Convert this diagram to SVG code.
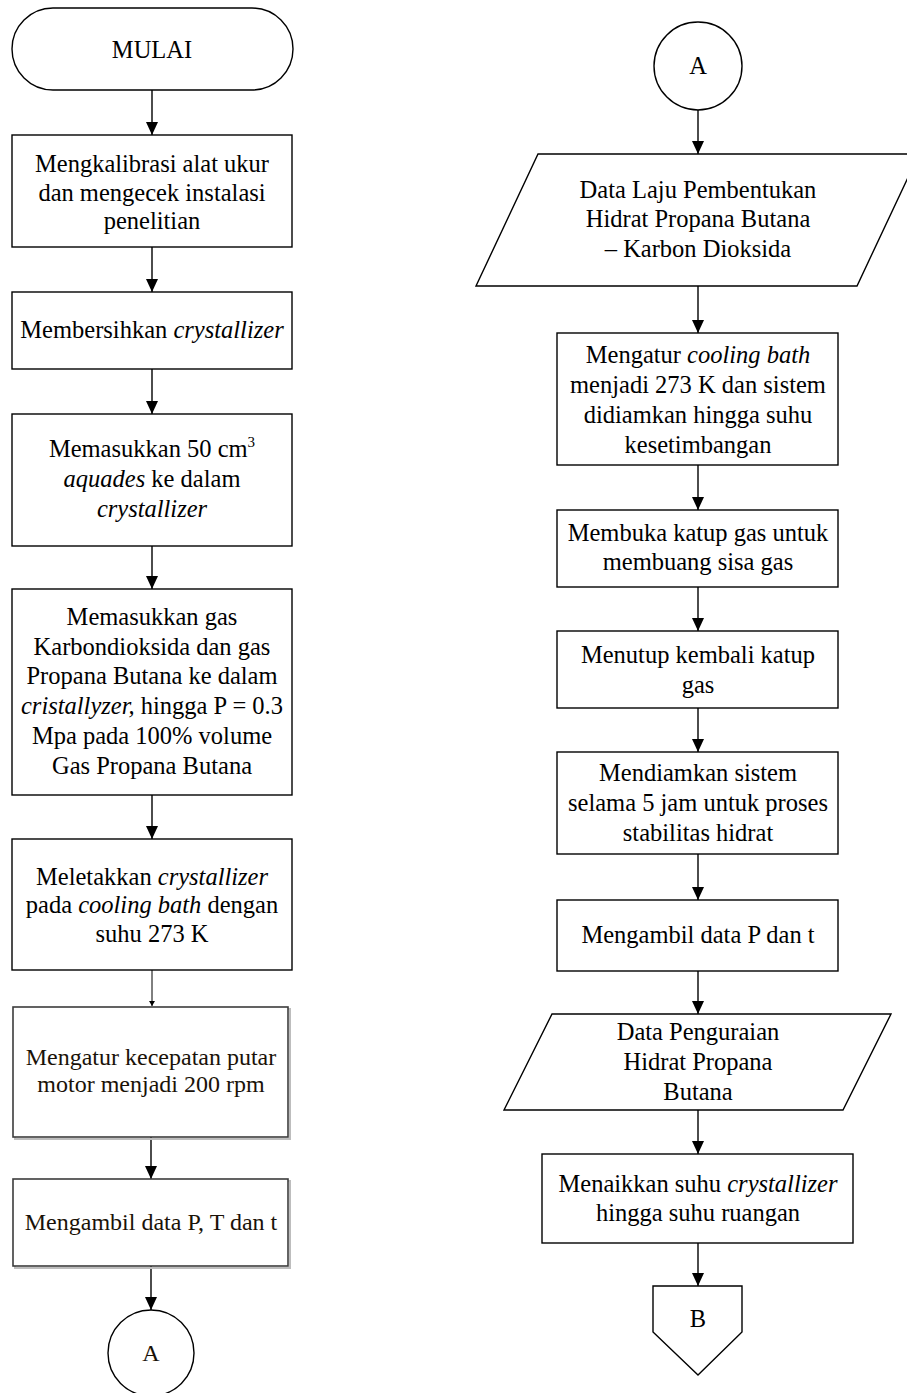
<svg xmlns="http://www.w3.org/2000/svg" width="907" height="1393" viewBox="0 0 907 1393">
<defs>
<style>
.n{fill:#fff;stroke:#000;stroke-width:1.4}
.g{fill:#fff;stroke:#3c3c3c;stroke-width:1.6}
.sh{fill:none;stroke:#bdbdbd;stroke-width:2}
.t{font-family:"Liberation Serif","Times New Roman",serif;font-size:24.5px;fill:#000;text-anchor:middle}
.tg{font-family:"Liberation Serif","Times New Roman",serif;font-size:24px;fill:#1a1208;text-anchor:middle}
.i{font-style:italic}
.c line{stroke:#000;stroke-width:1.4;fill:none}
</style>
<marker id="ah" markerUnits="userSpaceOnUse" markerWidth="14" markerHeight="12" refX="13" refY="6" orient="auto">
<path d="M0,0 L13,6 L0,12 z" fill="#000"/>
</marker>
<marker id="ahs" markerUnits="userSpaceOnUse" markerWidth="6" markerHeight="6" refX="5" refY="3" orient="auto">
<path d="M0,0 L5,3 L0,6 z" fill="#000"/>
</marker>
</defs>
<rect width="907" height="1393" fill="#fff"/>

<g id="connectors" class="c">
<line x1="152" y1="90" x2="152" y2="135" marker-end="url(#ah)"/>
<line x1="152" y1="247" x2="152" y2="292" marker-end="url(#ah)"/>
<line x1="152" y1="369" x2="152" y2="414" marker-end="url(#ah)"/>
<line x1="152" y1="546" x2="152" y2="589" marker-end="url(#ah)"/>
<line x1="152" y1="795" x2="152" y2="839" marker-end="url(#ah)"/>
<line x1="152" y1="970" x2="152" y2="1006" marker-end="url(#ahs)" style="stroke-width:1"/>
<line x1="151" y1="1137" x2="151" y2="1179" marker-end="url(#ah)"/>
<line x1="151" y1="1266" x2="151" y2="1310" marker-end="url(#ah)"/>
<line x1="698" y1="110" x2="698" y2="154" marker-end="url(#ah)"/>
<line x1="698" y1="286" x2="698" y2="333" marker-end="url(#ah)"/>
<line x1="698" y1="465" x2="698" y2="510" marker-end="url(#ah)"/>
<line x1="698" y1="587" x2="698" y2="631" marker-end="url(#ah)"/>
<line x1="698" y1="708" x2="698" y2="752" marker-end="url(#ah)"/>
<line x1="698" y1="854" x2="698" y2="900" marker-end="url(#ah)"/>
<line x1="698" y1="971" x2="698" y2="1014" marker-end="url(#ah)"/>
<line x1="698" y1="1110" x2="698" y2="1154" marker-end="url(#ah)"/>
<line x1="698" y1="1243" x2="698" y2="1286" marker-end="url(#ah)"/>
</g>

<g id="mulai">
<rect class="n" x="12" y="8" width="281" height="82" rx="41" ry="41"/>
<text class="t" x="152" y="58">MULAI</text>
</g>

<g id="kalibrasi">
<rect class="n" x="12" y="135" width="280" height="112"/>
<text class="t" x="152" y="172">Mengkalibrasi alat ukur</text>
<text class="t" x="152" y="201">dan mengecek instalasi</text>
<text class="t" x="152" y="229">penelitian</text>
</g>

<g id="membersihkan">
<rect class="n" x="12" y="292" width="280" height="77"/>
<text class="t" x="152" y="338">Membersihkan <tspan class="i">crystallizer</tspan></text>
</g>

<g id="aquades">
<rect class="n" x="12" y="414" width="280" height="132"/>
<text class="t" x="152" y="457">Memasukkan 50 cm<tspan dy="-10" font-size="15">3</tspan></text>
<text class="t" x="152" y="487"><tspan class="i">aquades</tspan> ke dalam</text>
<text class="t" x="152" y="517" font-style="italic">crystallizer</text>
</g>

<g id="gas">
<rect class="n" x="12" y="589" width="280" height="206"/>
<text class="t" x="152" y="625">Memasukkan gas</text>
<text class="t" x="152" y="655">Karbondioksida dan gas</text>
<text class="t" x="152" y="684">Propana Butana ke dalam</text>
<text class="t" x="152" y="714"><tspan class="i">cristallyzer,</tspan> hingga P = 0.3</text>
<text class="t" x="152" y="744">Mpa pada 100% volume</text>
<text class="t" x="152" y="774">Gas Propana Butana</text>
</g>

<g id="meletakkan">
<rect class="n" x="12" y="839" width="280" height="131"/>
<text class="t" x="152" y="885">Meletakkan <tspan class="i">crystallizer</tspan></text>
<text class="t" x="152" y="913">pada <tspan class="i">cooling bath</tspan> dengan</text>
<text class="t" x="152" y="942">suhu 273 K</text>
</g>

<g id="motor">
<rect class="sh" x="15" y="1009" width="275" height="130"/>
<rect class="g" x="13" y="1007" width="275" height="130"/>
<text class="tg" x="151" y="1065">Mengatur kecepatan putar</text>
<text class="tg" x="151" y="1092">motor menjadi 200 rpm</text>
</g>

<g id="ambil-pTt">
<rect class="sh" x="15" y="1181" width="275" height="87"/>
<rect class="g" x="13" y="1179" width="275" height="87"/>
<text class="tg" x="151" y="1230">Mengambil data P, T dan t</text>
</g>

<g id="a-left">
<circle class="n" cx="151" cy="1353" r="43"/>
<text class="tg" x="151" y="1361">A</text>
</g>

<g id="a-right">
<circle class="n" cx="698" cy="66" r="44"/>
<text class="t" x="698" y="74">A</text>
</g>

<g id="data-laju">
<polygon class="n" points="538,154 919,154 857,286 476,286"/>
<text class="t" x="698" y="198">Data Laju Pembentukan</text>
<text class="t" x="698" y="227">Hidrat Propana Butana</text>
<text class="t" x="698" y="257">– Karbon Dioksida</text>
</g>

<g id="cooling">
<rect class="n" x="557" y="333" width="281" height="132"/>
<text class="t" x="698" y="363">Mengatur <tspan class="i">cooling bath</tspan></text>
<text class="t" x="698" y="393">menjadi 273 K dan sistem</text>
<text class="t" x="698" y="423">didiamkan hingga suhu</text>
<text class="t" x="698" y="453">kesetimbangan</text>
</g>

<g id="buka-katup">
<rect class="n" x="557" y="510" width="281" height="77"/>
<text class="t" x="698" y="541">Membuka katup gas untuk</text>
<text class="t" x="698" y="570">membuang sisa gas</text>
</g>

<g id="tutup-katup">
<rect class="n" x="557" y="631" width="281" height="77"/>
<text class="t" x="698" y="663">Menutup kembali katup</text>
<text class="t" x="698" y="693">gas</text>
</g>

<g id="diamkan">
<rect class="n" x="557" y="752" width="281" height="102"/>
<text class="t" x="698" y="781">Mendiamkan sistem</text>
<text class="t" x="698" y="811">selama 5 jam untuk proses</text>
<text class="t" x="698" y="841">stabilitas hidrat</text>
</g>

<g id="ambil-Pt">
<rect class="n" x="557" y="900" width="281" height="71"/>
<text class="t" x="698" y="943">Mengambil data P dan t</text>
</g>

<g id="data-penguraian">
<polygon class="n" points="552,1014 891,1014 843,1110 504,1110"/>
<text class="t" x="698" y="1040">Data Penguraian</text>
<text class="t" x="698" y="1070">Hidrat Propana</text>
<text class="t" x="698" y="1100">Butana</text>
</g>

<g id="naikkan">
<rect class="n" x="542" y="1154" width="311" height="89"/>
<text class="t" x="698" y="1192">Menaikkan suhu <tspan class="i">crystallizer</tspan></text>
<text class="t" x="698" y="1221">hingga suhu ruangan</text>
</g>

<g id="b">
<polygon class="n" points="653,1286 742,1286 742,1332 698,1375 653,1332"/>
<text class="t" x="698" y="1327">B</text>
</g>
</svg>
